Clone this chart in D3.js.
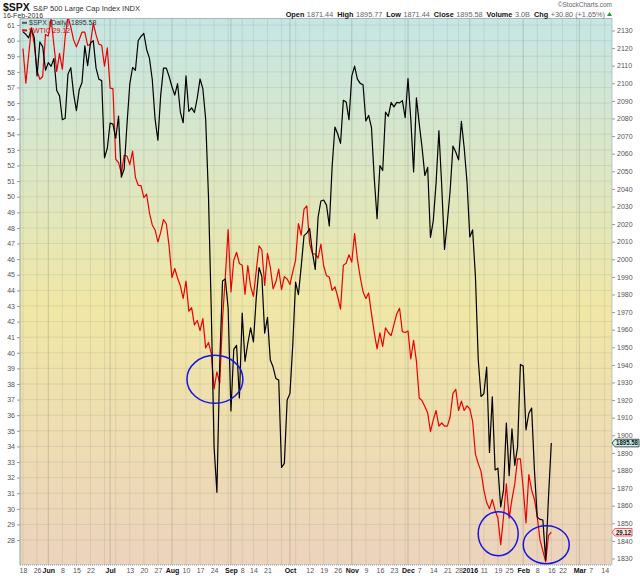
<!DOCTYPE html>
<html>
<head>
<meta charset="utf-8">
<script src="https://cdn.jsdelivr.net/npm/d3@7"></script>
<style>
  body { margin: 0; background: #fff; }
  svg { display: block; font-family: "Liberation Sans", Arial, sans-serif; }
</style>
</head>
<body>
<svg width="640" height="576"></svg>
<script>
// one value per trading day, index 0 = 18-May-2015 ... index 188 = 16-Feb-2016
var spxClose = [
  2129.2, 2127.83, 2125.85, 2130.82, 2126.06, 2104.2, 2123.48, 2120.79, 2107.39,
  2111.73, 2109.6, 2114.07, 2095.84, 2092.83, 2079.28, 2080.15, 2105.2, 2108.86, 2094.11, 2084.43, 2096.29, 2100.44, 2121.24, 2109.99, 2122.85, 2124.2, 2108.58, 2102.31, 2101.49, 2057.64, 2063.11,
  2077.42, 2076.78, 2068.76, 2081.34, 2046.68, 2051.31, 2076.62, 2099.6, 2108.95, 2107.4, 2124.29, 2126.64, 2128.28, 2119.21, 2114.15, 2102.15, 2079.65, 2067.64, 2093.25, 2108.57, 2108.63, 2103.84,
  2098.04, 2093.32, 2099.84, 2083.56, 2077.57, 2104.18, 2084.07, 2086.05, 2083.39, 2091.54, 2102.44, 2096.92, 2079.61, 2035.73, 1970.89, 1893.21, 1867.61, 1940.51, 1987.66, 1988.87, 1972.18,
  1913.85, 1948.86, 1951.13, 1921.22, 1969.41, 1942.04, 1952.29, 1961.05, 1953.03, 1978.09, 1995.31, 1990.2, 1958.03, 1966.97, 1942.74, 1938.76, 1932.24, 1931.34, 1881.77, 1884.09, 1920.03,
  1923.82, 1951.36, 1987.05, 1979.92, 1995.83, 2013.43, 2014.89, 2017.46, 2003.69, 1994.24, 2023.86, 2033.11, 2033.66, 2030.77, 2018.94, 2052.51, 2075.15, 2071.18, 2065.89, 2090.35, 2089.41, 2079.36,
  2104.05, 2109.79, 2102.31, 2099.93, 2099.2, 2078.58, 2081.72, 2075.0, 2045.97, 2023.04, 2053.19, 2050.44, 2083.58, 2081.24, 2089.17, 2086.59, 2089.14, 2088.87, 2090.11, 2080.41,
  2102.63, 2079.51, 2049.62, 2091.69, 2077.07, 2063.59, 2047.62, 2052.23, 2012.37, 2021.94, 2043.41, 2073.07, 2041.89, 2005.55, 2021.15, 2038.97, 2064.29, 2060.99, 2056.5, 2078.36, 2063.36, 2043.94,
  2012.66, 2016.71, 1990.26, 1943.09, 1922.03, 1923.67, 1938.68, 1890.28, 1921.84, 1880.33, 1881.33, 1859.33, 1868.99, 1906.9, 1877.08, 1903.63, 1882.95, 1893.36, 1940.24,
  1939.38, 1903.03, 1912.53, 1915.45, 1880.05, 1853.44, 1852.21, 1851.86, 1829.08, 1864.78, 1895.58
];

// $WTIC overlay, read against the left axis
var wticClose = [
  59.5, 57.27, 59.04, 60.83, 59.8, 58.06, 57.53, 57.7, 60.4,
  60.3, 61.39, 59.72, 58.03, 59.19, 58.17, 60.23, 61.56, 60.88, 60.05, 59.6, 60.06, 60.55, 60.55, 59.69, 59.76, 61.13, 60.37, 59.78, 59.71, 58.37, 59.54,
  56.96, 56.93, 52.4, 52.19, 51.49, 52.65, 52.61, 52.06, 52.92, 51.24, 50.73, 50.71, 49.94, 50.16, 48.96, 48.19, 47.87, 47.1, 47.71, 48.54, 48.27, 46.82,
  44.82, 45.4, 44.79, 44.29, 43.48, 44.6, 42.66, 42.89, 41.79, 42.07, 41.42, 42.19, 40.31, 40.66, 39.95, 37.68, 38.78, 38.05, 42.13, 44.87, 47.9,
  43.9, 45.93, 46.44, 45.72, 45.61, 43.76, 45.59, 44.26, 43.61, 45.25, 46.85, 46.6, 44.31, 46.37, 45.49, 44.1, 44.55, 45.36, 44.05, 44.88, 44.73,
  44.37, 45.2, 45.94, 48.28, 47.53, 49.2, 49.41, 47.0, 46.35, 46.33, 46.06, 46.97, 45.56, 44.94, 44.85, 44.0, 44.23, 43.59, 42.79, 45.61, 45.73, 46.28,
  45.81, 47.63, 46.0, 44.85, 43.91, 43.48, 43.83, 42.51, 41.29, 40.25, 41.28, 40.4, 41.6, 41.3, 41.1, 41.8, 42.5, 42.85, 41.35, 41.3,
  41.4, 39.6, 40.8, 39.46, 37.1, 36.93, 36.56, 36.15, 34.95, 35.7, 36.3, 35.3, 35.5, 35.3, 35.3, 35.9, 37.4, 37.66, 36.3, 36.9, 36.3, 36.6,
  36.4, 35.6, 33.5, 32.9, 32.4, 31.2, 30.4, 30.0, 30.6, 29.9, 29.4, 27.7, 29.5, 31.6, 29.4, 30.6, 31.6, 33.2, 33.2,
  31.3, 29.1, 32.2, 31.2, 30.6, 29.5, 28.0, 27.3, 26.6, 28.3, 28.5
];
var wticQuote = "29.12";

// weekly / monthly grid positions (trading day index) and their labels
var weekTicks = [0, 5, 9, 14, 19, 24, 29, 31, 33, 38, 43, 48, 53, 58, 63, 68, 73, 74, 78, 82, 87, 92, 95, 97, 102, 107, 112, 117, 122, 127, 132, 136, 137, 141, 146, 151, 155, 159, 164, 169, 173, 178, 183, 188, 192, 197, 198, 202, 207];
var weekLabels = ["18", "26", "Jun", "8", "15", "22", "", "Jul", "", "13", "20", "27", "Aug", "10", "17", "24", "", "Sep", "8", "14", "21", "", "Oct", "", "12", "19", "26", "Nov", "9", "16", "23", "", "Dec", "7", "14", "21", "28", "2016", "11", "19", "25", "Feb", "8", "16", "22", "", "Mar", "7", "14"];
var monthLabels = ["Jun", "Jul", "Aug", "Sep", "Oct", "Nov", "Dec", "2016", "Feb", "Mar"];

var leftTicks = [28, 29, 30, 31, 32, 33, 34, 35, 36, 37, 38, 39, 40, 41, 42, 43, 44, 45, 46, 47, 48, 49, 50, 51, 52, 53, 54, 55, 56, 57, 58, 59, 60, 61];
var rightTicks = [1830, 1840, 1850, 1860, 1870, 1880, 1890, 1900, 1910, 1920, 1930, 1940, 1950, 1960, 1970, 1980, 1990, 2000, 2010, 2020, 2030, 2040, 2050, 2060, 2070, 2080, 2090, 2100, 2110, 2120, 2130];

// hand drawn blue circles: trading day and $WTIC level of their centre
var circleDays = [68.3, 169.1, 186.2];
var circleWtic = [38.3, 28.4, 27.7];

function main() {
  var svg = d3.select("svg"),
    margin = { top: 18.5, right: 28, bottom: 11, left: 20 },
    width = +svg.attr("width") - margin.left - margin.right,
    height = +svg.attr("height") - margin.top - margin.bottom;

  var xScale = d3.scaleLinear().domain([-1.07, 209.6]).range([0, width]);
  // left axis carries the $WTIC overlay, right axis the $SPX price
  var yLeft = d3.scaleLinear().domain([26.4, 61.42]).range([height, 0]);
  var yRight = d3.scaleLinear().domain([1826.3, 2136.8]).range([height, 0]);

  var defs = svg.append("defs");
  var grad = defs
    .append("linearGradient")
    .attr("id", "bg")
    .attr("x1", 0)
    .attr("y1", 0)
    .attr("x2", 0)
    .attr("y2", 1);
  grad.append("stop").attr("offset", "0%").attr("stop-color", "#c6e6e4");
  grad.append("stop").attr("offset", "53%").attr("stop-color", "#f0e7a6");
  grad.append("stop").attr("offset", "100%").attr("stop-color", "#ecd3bd");
  defs
    .append("clipPath")
    .attr("id", "plot-clip")
    .append("rect")
    .attr("width", width)
    .attr("height", height);

  var g = svg
    .append("g")
    .attr("transform", "translate(" + margin.left + "," + margin.top + ")");

  g.append("rect")
    .attr("width", width)
    .attr("height", height)
    .attr("fill", "url(#bg)");

  // horizontal grid on the left ticks
  g.append("g")
    .selectAll("line")
    .data(leftTicks)
    .enter()
    .append("line")
    .attr("x1", 0)
    .attr("x2", width)
    .attr("y1", function (d) { return yLeft(d); })
    .attr("y2", function (d) { return yLeft(d); })
    .attr("stroke", "#4a5a50")
    .attr("stroke-opacity", 0.11);

  // vertical grid, month lines a bit darker
  g.append("g")
    .selectAll("line")
    .data(weekTicks)
    .enter()
    .append("line")
    .attr("x1", function (d) { return xScale(d); })
    .attr("x2", function (d) { return xScale(d); })
    .attr("y1", 0)
    .attr("y2", height)
    .attr("stroke", "#4a5a50")
    .attr("stroke-opacity", function (d, i) {
      return monthLabels.indexOf(weekLabels[i]) >= 0 ? 0.24 : 0.11;
    });

  // price lines
  var spxLine = d3
    .line()
    .x(function (d, i) { return xScale(i); })
    .y(function (d) { return yRight(d); });
  var wticLine = d3
    .line()
    .x(function (d, i) { return xScale(i); })
    .y(function (d) { return yLeft(d); });

  var lines = g.append("g").attr("clip-path", "url(#plot-clip)");
  lines
    .append("path")
    .datum(wticClose)
    .attr("d", wticLine)
    .attr("fill", "none")
    .attr("stroke", "#ee0000")
    .attr("stroke-width", 1.2)
    .attr("stroke-linejoin", "round");
  lines
    .append("path")
    .datum(spxClose)
    .attr("d", spxLine)
    .attr("fill", "none")
    .attr("stroke", "#000")
    .attr("stroke-width", 1.2)
    .attr("stroke-linejoin", "round");

  // blue circles
  var circleSize = [[28, 24], [20, 22], [23, 19]];
  g.append("g")
    .selectAll("ellipse")
    .data(circleDays)
    .enter()
    .append("ellipse")
    .attr("cx", function (d) { return xScale(d); })
    .attr("cy", function (d, i) { return yLeft(circleWtic[i]); })
    .attr("rx", function (d, i) { return circleSize[i][0]; })
    .attr("ry", function (d, i) { return circleSize[i][1]; })
    .attr("fill", "none")
    .attr("stroke", "#1414e6")
    .attr("stroke-width", 1.5);

  // plot frame
  g.append("line").attr("x1", 0).attr("x2", 0).attr("y1", 0).attr("y2", height)
    .attr("stroke", "#8fa4a8");
  g.append("line").attr("x1", 0).attr("x2", width).attr("y1", 0).attr("y2", 0)
    .attr("stroke", "#a9b8ba");
  g.append("line").attr("x1", width).attr("x2", width).attr("y1", 0).attr("y2", height)
    .attr("stroke", "#7f9cb0").attr("stroke-dasharray", "1,1");
  g.append("line").attr("x1", 0).attr("x2", width).attr("y1", height).attr("y2", height)
    .attr("stroke", "#7f9cb0").attr("stroke-dasharray", "1,1");

  // axes
  var plain = d3.format("d");
  var leftAxis = g
    .append("g")
    .call(d3.axisLeft(yLeft).tickValues(leftTicks).tickFormat(plain).tickSize(3).tickPadding(2));
  var rightAxis = g
    .append("g")
    .attr("transform", "translate(" + width + ",0)")
    .call(d3.axisRight(yRight).tickValues(rightTicks).tickFormat(plain).tickSize(3).tickPadding(2));
  var bottomAxis = g
    .append("g")
    .attr("transform", "translate(0," + height + ")")
    .call(
      d3.axisBottom(xScale)
        .tickValues(weekTicks)
        .tickFormat(function (d, i) { return weekLabels[i]; })
        .tickSize(0)
        .tickPadding(3)
    );

  [leftAxis, rightAxis, bottomAxis].forEach(function (ax) {
    ax.select(".domain").remove();
    ax.selectAll("line").attr("stroke", "#999");
    ax.selectAll("text")
      .style("font-family", "'Liberation Sans', Arial, sans-serif")
      .style("font-size", "7px")
      .attr("fill", "#555");
  });
  bottomAxis
    .selectAll("text")
    .filter(function (d, i) { return monthLabels.indexOf(weekLabels[i]) >= 0; })
    .attr("fill", "#111")
    .style("font-weight", "bold");

  // legend
  var legend = g.append("g").attr("transform", "translate(2,0)");
  var legendRows = [
    { text: "$SPX (Daily) " + spxClose[spxClose.length - 1].toFixed(2), color: "#333", mark: "#555" },
    { text: "$WTIC " + wticQuote, color: "#e00", mark: "#e00" }
  ];
  legendRows.forEach(function (r, i) {
    legend.append("line")
      .attr("x1", 0).attr("x2", 5)
      .attr("y1", 4.3 + i * 7.6).attr("y2", 4.3 + i * 7.6)
      .attr("stroke", r.mark).attr("stroke-width", 2);
    legend.append("text")
      .attr("x", 7).attr("y", 6.8 + i * 7.6)
      .attr("fill", r.color)
      .style("font-size", "7px")
      .text(r.text);
  });

  // last value tags on the right axis
  function tag(yPos, label, stroke, fill, w) {
    var x0 = margin.left + width, y0 = margin.top + yPos;
    svg.append("path")
      .attr("d", "M" + x0 + "," + y0 + "l3,-3.8h" + w + "v7.6h" + -w + "z")
      .attr("fill", fill)
      .attr("stroke", stroke)
      .attr("stroke-width", 0.8);
    svg.append("text")
      .attr("x", x0 + 4).attr("y", y0 + 2.4)
      .attr("fill", "#111")
      .attr("textLength", w - 2)
      .attr("lengthAdjust", "spacingAndGlyphs")
      .style("font-size", "6.6px")
      .style("font-weight", "bold")
      .text(label);
  }
  tag(yRight(spxClose[spxClose.length - 1]), spxClose[spxClose.length - 1].toFixed(2), "#222", "#c9f1f3", 24);
  tag(yLeft(wticClose[wticClose.length - 1]), wticQuote, "#e33", "#fde8e8", 17);

  // header
  var head = svg.append("g");
  head.append("text")
    .attr("x", 3).attr("y", 11)
    .style("font-size", "10.5px").style("font-weight", "bold")
    .attr("fill", "#111")
    .text("$SPX");
  head.append("text")
    .attr("x", 33).attr("y", 10.5)
    .style("font-size", "7.5px")
    .attr("fill", "#333")
    .text("S&P 500 Large Cap Index  INDX");
  head.append("text")
    .attr("x", 3).attr("y", 17.5)
    .style("font-size", "7px")
    .attr("fill", "#333")
    .text("16-Feb-2016");
  head.append("text")
    .attr("x", 612).attr("y", 7)
    .attr("text-anchor", "end")
    .style("font-size", "6.5px")
    .attr("fill", "#666")
    .text("\u00a9StockCharts.com");

  var quote = [
    ["Open", "1871.44"], ["High", "1895.77"], ["Low", "1871.44"],
    ["Close", "1895.58"], ["Volume", "3.0B"], ["Chg", "+30.80 (+1.65%)"]
  ];
  var qt = head.append("text")
    .attr("x", 605).attr("y", 16.5)
    .attr("text-anchor", "end")
    .style("font-size", "7.3px");
  quote.forEach(function (q, i) {
    qt.append("tspan").attr("dx", i === 0 ? 0 : 4).style("font-weight", "bold").attr("fill", "#111").text(q[0]);
    qt.append("tspan").attr("dx", 2.5).attr("fill", "#666").text(q[1]);
  });
  head.append("path")
    .attr("d", "M607,16l2.5,-4l2.5,4z")
    .attr("fill", "#2a9a3a");
}

main();
</script>
</body>
</html>
